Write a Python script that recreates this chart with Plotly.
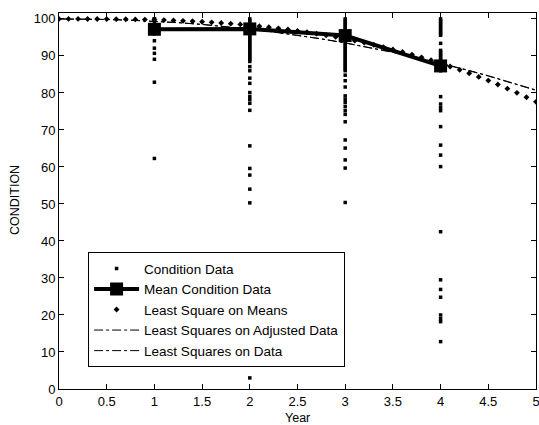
import plotly.graph_objects as go

# ---- data ----
year1_vals = [100, 100, 100, 99, 98, 97, 96, 94.1, 92.1, 90.7, 89.1, 82.9, 62.3]
year2_vals = [100, 99.5, 99, 98.5, 98, 97.5, 97, 96.5, 96, 95.5, 95, 94.5, 94, 93.5,
              93, 92.5, 92, 91.5, 91, 90.5, 90, 89.5, 89, 88.5,
              87.1, 86, 84, 82.6, 80.1, 79, 78.2, 77.2, 75.3, 65.7, 59.6, 57.8, 54, 50.3, 3]
year3_vals = [100, 99.5, 99, 98.5, 98, 97.5, 97, 96.5, 96, 95.5, 95, 94.5, 94, 93.5,
              93, 92.5, 92, 91.5, 91, 90.5, 90, 89.5, 89, 88.5, 88, 87.5, 87, 86.5, 86,
              84.8, 83.3, 81.6, 79.2, 78.3, 77.4, 76.3, 75.2, 74.2, 72.2, 67.3, 65.1,
              61.9, 59.7, 50.4]
year4_vals = [100, 99.5, 99, 98.5, 98, 97.5, 97, 96.5, 96, 95.6, 93.4,
              91.5, 91, 90.5, 90, 89.5, 89, 88.5, 88, 87.5, 87, 86.5, 86,
              79, 77, 76, 75.2, 70.9, 65.9, 63.2, 60.1, 42.5, 29.5, 26.9, 24.8,
              20, 19, 18.2, 12.8]

mean_years = [1, 2, 3, 4]
mean_vals = [97.2, 97.3, 95.5, 87.3]

ls_means_x = [0.0, 0.1, 0.2, 0.3, 0.4, 0.5, 0.6, 0.7, 0.8, 0.9,
              1.0, 1.1, 1.2, 1.3, 1.4, 1.5, 1.6, 1.7, 1.8, 1.9,
              2.0, 2.1, 2.2, 2.3, 2.4, 2.5, 2.6, 2.7, 2.8, 2.9,
              3.0, 3.1, 3.2, 3.3, 3.4, 3.5, 3.6, 3.7, 3.8, 3.9,
              4.0, 4.1, 4.2, 4.3, 4.4, 4.5, 4.6, 4.7, 4.8, 4.9, 5.0]
ls_means_y = [100.00, 100.00, 100.00, 99.99, 99.98, 99.96, 99.94, 99.91, 99.87, 99.82,
              99.75, 99.68, 99.59, 99.49, 99.37, 99.23, 99.08, 98.91, 98.72, 98.51,
              98.28, 98.03, 97.75, 97.45, 97.13, 96.78, 96.41, 96.01, 95.58, 95.13,
              94.64, 94.13, 93.58, 93.00, 92.39, 91.75, 91.07, 90.36, 89.61, 88.83,
              88.01, 87.15, 86.25, 85.32, 84.34, 83.33, 82.27, 81.16, 80.02, 78.84, 77.60]

ls_x = [0, 0.25, 0.5, 0.75, 1, 1.25, 1.5, 1.75, 2, 2.25, 2.5, 2.75,
        3, 3.25, 3.5, 3.75, 4, 4.25, 4.5, 4.75, 5]
ls_adjusted_y = [100.00, 99.97, 99.86, 99.66, 99.38, 99.00, 98.52, 97.95, 97.27, 96.50,
                 95.61, 94.63, 93.53, 92.33, 91.02, 89.60, 88.06, 86.42, 84.66, 82.79, 80.80]
ls_data_y = [100.00, 99.96, 99.85, 99.65, 99.36, 98.98, 98.50, 97.92, 97.24, 96.46,
             95.57, 94.58, 93.48, 92.27, 90.95, 89.52, 87.98, 86.33, 84.56, 82.68, 80.68]

x_ticks = [0, 0.5, 1, 1.5, 2, 2.5, 3, 3.5, 4, 4.5, 5]
x_tick_text = ["0", "0.5", "1", "1.5", "2", "2.5", "3", "3.5", "4", "4.5", "5"]
y_ticks = [0, 10, 20, 30, 40, 50, 60, 70, 80, 90, 100]

# ---- build figure ----
cond_x = ([1] * len(year1_vals) + [2] * len(year2_vals)
          + [3] * len(year3_vals) + [4] * len(year4_vals))
cond_y = year1_vals + year2_vals + year3_vals + year4_vals

FONT = "Liberation Sans, Arial, sans-serif"

fig = go.Figure()
fig.add_trace(go.Scatter(x=cond_x, y=cond_y, mode="markers", name="Condition Data",
                         marker=dict(symbol="square", size=3.5, color="black")))
fig.add_trace(go.Scatter(x=mean_years, y=mean_vals, mode="lines+markers",
                         name="Mean Condition Data",
                         line=dict(color="black", width=4),
                         marker=dict(symbol="square", size=13, color="black")))
fig.add_trace(go.Scatter(x=ls_means_x, y=ls_means_y, mode="markers",
                         name="Least Square on Means",
                         marker=dict(symbol="diamond", size=4.5, color="black")))
fig.add_trace(go.Scatter(x=ls_x, y=ls_adjusted_y, mode="lines",
                         name="Least Squares on Adjusted Data",
                         line=dict(color="black", width=1, dash="dashdot")))
fig.add_trace(go.Scatter(x=ls_x, y=ls_data_y, mode="lines",
                         name="Least Squares on Data",
                         line=dict(color="black", width=1, dash="dashdot")))

axis_common = dict(showline=True, linecolor="black", linewidth=1, mirror="ticks",
                   ticks="inside", ticklen=5, tickcolor="black", showgrid=False,
                   zeroline=False, automargin=False, ticklabeloverflow="allow",
                   tickfont=dict(family=FONT, size=13, color="black"))

fig.update_layout(
    width=539, height=425,
    margin=dict(l=59, r=3, t=13, b=36),
    paper_bgcolor="white", plot_bgcolor="white",
    font=dict(family=FONT, size=13, color="black"),
    xaxis=dict(range=[0, 5], tickvals=x_ticks, ticktext=x_tick_text, **axis_common),
    yaxis=dict(range=[0, 101.6], tickvals=y_ticks, **axis_common),
    legend=dict(x=0.061, y=0.364, xanchor="left", yanchor="top",
                bordercolor="black", borderwidth=1, bgcolor="white",
                font=dict(family=FONT, size=13.5, color="black"),
                itemwidth=45, tracegroupgap=0),
    showlegend=True,
    annotations=[
        dict(text="Year", x=2.5, xref="x", y=-0.077, yref="paper",
             showarrow=False, xanchor="center", yanchor="middle",
             font=dict(family=FONT, size=12.5, color="black")),
        dict(text="CONDITION", x=-0.092, xref="paper", y=0.503, yref="paper",
             showarrow=False, textangle=-90, xanchor="center", yanchor="middle",
             font=dict(family=FONT, size=12.5, color="black")),
    ],
)

fig.write_html(
    "out.html",
    config={"displayModeBar": False},
    post_script="document.body.style.margin='0';document.body.style.overflow='hidden';",
)
